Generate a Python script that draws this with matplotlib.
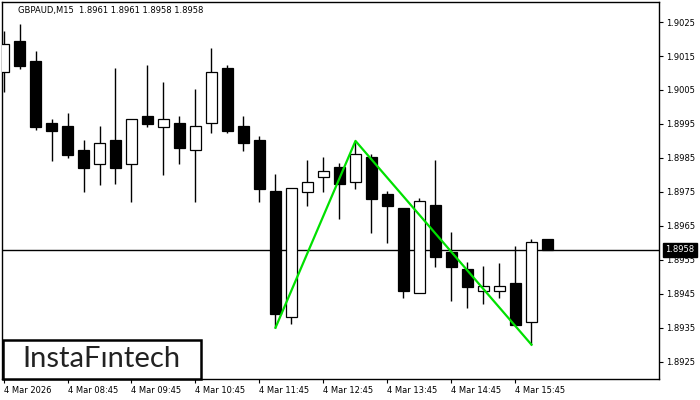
import numpy as np
import matplotlib.pyplot as plt
from matplotlib.patches import Rectangle

# Velas GBPAUD M15 -> apertura, máximo, mínimo, cierre
apertura = [1.90103, 1.90194, 1.90135, 1.89954, 1.89944, 1.89873, 1.89831, 1.89903,
            1.89831, 1.89973, 1.89942, 1.89952, 1.89872, 1.89952, 1.90114, 1.89944,
            1.89903, 1.89752, 1.89381, 1.89750, 1.89793, 1.89822, 1.89780, 1.89852,
            1.89743, 1.89702, 1.89451, 1.89711, 1.89573, 1.89522, 1.89459, 1.89459,
            1.89482, 1.89368, 1.89610]
maximo = [1.90224, 1.90244, 1.90165, 1.89964, 1.89982, 1.89903, 1.89944, 1.90114,
          1.89964, 1.90123, 1.90074, 1.89973, 1.90053, 1.90173, 1.90123, 1.89974,
          1.89915, 1.89802, 1.89760, 1.89844, 1.89852, 1.89834, 1.89900, 1.89861,
          1.89752, 1.89702, 1.89731, 1.89844, 1.89631, 1.89544, 1.89532, 1.89541,
          1.89590, 1.89612, 1.89610]
minimo = [1.90044, 1.90112, 1.89932, 1.89842, 1.89851, 1.89750, 1.89770, 1.89772,
          1.89721, 1.89942, 1.89800, 1.89831, 1.89721, 1.89922, 1.89922, 1.89871,
          1.89721, 1.89350, 1.89360, 1.89708, 1.89750, 1.89671, 1.89758, 1.89630,
          1.89600, 1.89438, 1.89451, 1.89530, 1.89429, 1.89409, 1.89419, 1.89438,
          1.89358, 1.89300, 1.89580]
cierre = [1.90185, 1.90121, 1.89941, 1.89930, 1.89858, 1.89821, 1.89893, 1.89821,
          1.89964, 1.89950, 1.89964, 1.89880, 1.89943, 1.90103, 1.89930, 1.89893,
          1.89759, 1.89389, 1.89760, 1.89780, 1.89810, 1.89772, 1.89860, 1.89729,
          1.89708, 1.89459, 1.89723, 1.89559, 1.89530, 1.89471, 1.89473, 1.89473,
          1.89358, 1.89601, 1.89580]

etiquetas_x = ["4 Mar 2026", "4 Mar 08:45", "4 Mar 09:45", "4 Mar 10:45",
               "4 Mar 11:45", "4 Mar 12:45", "4 Mar 13:45", "4 Mar 14:45",
               "4 Mar 15:45"]
niveles_y = [1.8925, 1.8935, 1.8945, 1.8955, 1.8965, 1.8975,
             1.8985, 1.8995, 1.9005, 1.9015, 1.9025]

# Patrón doble suelo (índice de vela, precio)
patron_idx = [17, 22, 33]
patron_precio = [1.8935, 1.8990, 1.8930]

precio_actual = 1.8958
titulo = "GBPAUD,M15  1.8961 1.8961 1.8958 1.8958"

apertura = np.array(apertura)
cierre = np.array(cierre)
x = np.arange(len(apertura))
alcista = cierre >= apertura

plt.rcParams['font.family'] = 'DejaVu Sans'
fig = plt.figure(figsize=(7, 4), dpi=100)
ax = fig.add_axes([2/700, 21/400, 657/700, 377/400])

ax.vlines(x, minimo, maximo, color="black", linewidth=1, zorder=2)
ax.bar(x, np.abs(cierre - apertura), bottom=np.minimum(apertura, cierre),
       width=0.63, color=np.where(alcista, "white", "black"),
       edgecolor="black", linewidth=0.9, zorder=3)

ax.axhline(precio_actual, color="black", linewidth=1, zorder=1)
ax.plot(patron_idx, patron_precio, color="#00e000", linewidth=1.6, zorder=4)

ax.set_xlim(-0.094, 40.97)
ax.set_ylim(1.89199, 1.90309)

ax.set_xticks(x[::4][:len(etiquetas_x)])
ax.set_xticklabels(etiquetas_x, fontsize=6, ha="left")
ax.yaxis.tick_right()
ax.set_yticks(niveles_y)
ax.set_yticklabels([f"{v:.4f}" for v in niveles_y], fontsize=6)
ax.tick_params(axis="both", length=3, width=0.8, pad=2, colors="black")
for s in ax.spines.values():
    s.set_linewidth(1)

ax.text(1.0095, precio_actual, f"{precio_actual:.4f}", transform=ax.get_yaxis_transform(),
        fontsize=6, color="white", va="center", ha="left",
        bbox=dict(boxstyle="square,pad=0.3", facecolor="black", edgecolor="black"))

fig.text(18/700, 1 - 11/400, titulo, fontsize=6, va="center", ha="left")

# Logo
fig.patches.append(Rectangle((3/700, 21/400), 198/700, 39/400, transform=fig.transFigure,
                             facecolor="white", edgecolor="black", linewidth=1.8, zorder=5))
fig.text(101/700, 1 - 359/400, "InstaFıntech", fontsize=21, color="#222222",
         family="Lato", va="center", ha="center", zorder=6)

fig.savefig("out.png", dpi=100)
